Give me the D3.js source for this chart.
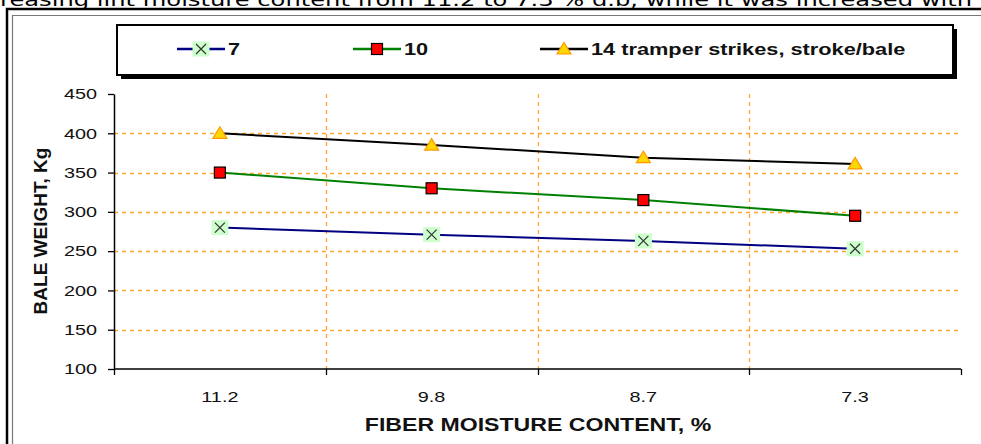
<!DOCTYPE html>
<html>
<head>
<meta charset="utf-8">
<script src="https://cdn.jsdelivr.net/npm/d3@7/dist/d3.min.js"></script>
<style>
  html, body { margin: 0; padding: 0; background: #fff; }
  svg { display: block; }
</style>
</head>
<body>
<svg id="chart" width="981" height="444"></svg>
<script>
// ---- data ----
const categories = ["11.2", "9.8", "8.7", "7.3"];
const strikes7  = [280, 271, 263, 253];
const strikes10 = [350, 330, 315, 295];
const strikes14 = [400, 385, 369, 361];
const seriesNames = ["7", "10", "14 tramper strikes, stroke/bale"];
const yTicks = [100, 150, 200, 250, 300, 350, 400, 450];
const yGridTicks = [150, 200, 250, 300, 350, 400];
const yTitle = "BALE WEIGHT, Kg";
const xTitle = "FIBER MOISTURE CONTENT, %";
const topText = "reasing lint moisture content from 11.2 to 7.3 % d.b, while it was increased with";

const svg = d3.select("#chart");
const W = 981, H = 444;
const plot = { left: 114, right: 961, top: 94, bottom: 369 };

const x = d3.scalePoint().domain(categories).range([plot.left, plot.right]).padding(0.5);
const xb = d3.scaleBand().domain(categories).range([plot.left, plot.right]).padding(0);
const y = d3.scaleLinear().domain([100, 450]).range([plot.bottom, plot.top]);

const HS = 1.28; // horizontal stretch of text in the reference

// top cut-off text (the reference shows only its lower part)
svg.append("text")
  .attr("x", 0).attr("y", 6)
  .attr("textLength", 972).attr("lengthAdjust", "spacingAndGlyphs")
  .style("font-family", "DejaVu Sans, Verdana, sans-serif")
  .style("font-size", "18px").attr("fill", "#000")
  .text(topText);

// frame lines
svg.append("path").attr("d", `M7,${H} V9 H${W}`).attr("fill", "none").attr("stroke", "#000").attr("stroke-width", 2.5);
svg.append("path").attr("d", `M12.5,${H} V15.5 H${W}`).attr("fill", "none").attr("stroke", "#777").attr("stroke-width", 1.2);

// gridlines
const grid = svg.append("g");
grid.selectAll("line.h").data(yGridTicks).join("line")
  .attr("x1", plot.left).attr("x2", plot.right)
  .attr("y1", d => Math.round(y(d)) + 0.5).attr("y2", d => Math.round(y(d)) + 0.5)
  .attr("stroke", "#FFA633").attr("stroke-width", 1.3).attr("stroke-dasharray", "4,4");
grid.selectAll("line.v").data(categories.slice(1)).join("line")
  .attr("x1", d => Math.round(xb(d)) + 0.5).attr("x2", d => Math.round(xb(d)) + 0.5)
  .attr("y1", plot.top).attr("y2", plot.bottom)
  .attr("stroke", "#FFA633").attr("stroke-width", 1.3).attr("stroke-dasharray", "4,4");

// helper for stretched text
function stext(g, tx, ty, str, opts) {
  const t = g.append("text")
    .attr("transform", `translate(${tx},${ty}) scale(${opts.sx || HS},1)`)
    .attr("text-anchor", opts.anchor || "middle")
    .attr("dominant-baseline", "central")
    .style("font-family", "Liberation Sans, Arial, sans-serif")
    .style("font-size", opts.size + "px")
    .style("font-weight", opts.bold ? "bold" : "normal")
    .attr("fill", opts.fill || "#111")
    .text(str);
  return t;
}

// y axis
const yAxis = svg.append("g").attr("transform", `translate(${plot.left},0)`)
  .call(d3.axisLeft(y).tickValues(yTicks).tickSize(6).tickSizeOuter(0).tickFormat(""));
yAxis.select(".domain").attr("stroke", "#000").attr("stroke-width", 1.5);
yAxis.selectAll(".tick line").attr("stroke", "#000").attr("stroke-width", 1.3);
yTicks.forEach(v => stext(svg, 97, y(v), String(v), { size: 15.5, anchor: "end" }));

// x axis
svg.append("line").attr("x1", plot.left).attr("x2", plot.right)
  .attr("y1", plot.bottom).attr("y2", plot.bottom).attr("stroke", "#000").attr("stroke-width", 1.5);
const bounds = categories.map(c => xb(c)).concat([xb(categories[categories.length - 1]) + xb.bandwidth()]);
svg.selectAll("line.xt").data(bounds).join("line")
  .attr("x1", d => Math.round(d) + 0.5).attr("x2", d => Math.round(d) + 0.5)
  .attr("y1", plot.bottom).attr("y2", plot.bottom + 6)
  .attr("stroke", "#000").attr("stroke-width", 1.3);
categories.forEach(c => stext(svg, x(c), 397, c, { size: 15.5 }));

// axis titles
stext(svg, 538, 425, xTitle, { size: 17.5, bold: true, sx: 1.32 });
svg.append("text")
  .attr("transform", `translate(40,231) rotate(-90)`)
  .attr("text-anchor", "middle").attr("dominant-baseline", "central")
  .style("font-family", "Liberation Sans, Arial, sans-serif")
  .style("font-size", "19px").style("font-weight", "bold")
  .attr("fill", "#111").text(yTitle);

// series
const series = [
  { name: seriesNames[0], values: strikes7, color: "#000080", marker: "x" },
  { name: seriesNames[1], values: strikes10, color: "#008000", marker: "square" },
  { name: seriesNames[2], values: strikes14, color: "#000000", marker: "triangle" }
];

const line = d3.line().x((d, i) => x(categories[i])).y(d => y(d));

function drawMarker(g, type, cx, cy) {
  if (type === "x") {
    g.append("rect").attr("x", cx - 8.5).attr("y", cy - 7.5).attr("width", 17).attr("height", 15).attr("fill", "#CCFFCC");
    g.append("path").attr("d", `M${cx-5},${cy-5}L${cx+5},${cy+5}M${cx-5},${cy+5}L${cx+5},${cy-5}`)
      .attr("stroke", "#333").attr("stroke-width", 1.2).attr("fill", "none");
  } else if (type === "square") {
    g.append("rect").attr("x", cx - 5.5).attr("y", cy - 5.5).attr("width", 11).attr("height", 11)
      .attr("fill", "#FF0000").attr("stroke", "#000").attr("stroke-width", 1.2);
  } else {
    g.append("path").attr("d", `M${cx},${cy-6.5}L${cx+7},${cy+5}L${cx-7},${cy+5}Z`)
      .attr("fill", "#FFD700").attr("stroke", "#FF9900").attr("stroke-width", 1.2);
  }
}

series.forEach(s => {
  svg.append("path").datum(s.values).attr("d", line)
    .attr("fill", "none").attr("stroke", s.color).attr("stroke-width", 2);
});
series.forEach(s => {
  const g = svg.append("g");
  s.values.forEach((v, i) => drawMarker(g, s.marker, x(categories[i]), y(v)));
});

// legend
const lg = svg.append("g");
lg.append("rect").attr("x", 121).attr("y", 29).attr("width", 836).attr("height", 50).attr("fill", "#000");
lg.append("rect").attr("x", 117).attr("y", 25).attr("width", 836).attr("height", 50)
  .attr("fill", "#fff").attr("stroke", "#000").attr("stroke-width", 2);
const legendX = [177, 353, 540];
const legendY = 49;
series.forEach((s, i) => {
  const lx = legendX[i];
  lg.append("line").attr("x1", lx).attr("x2", lx + 48).attr("y1", legendY).attr("y2", legendY)
    .attr("stroke", s.color).attr("stroke-width", 2.5);
  drawMarker(lg, s.marker, lx + 24, legendY);
  stext(lg, lx + 51, legendY, s.name, { size: 17, bold: true, anchor: "start", sx: 1.28 });
});
</script>
</body>
</html>
